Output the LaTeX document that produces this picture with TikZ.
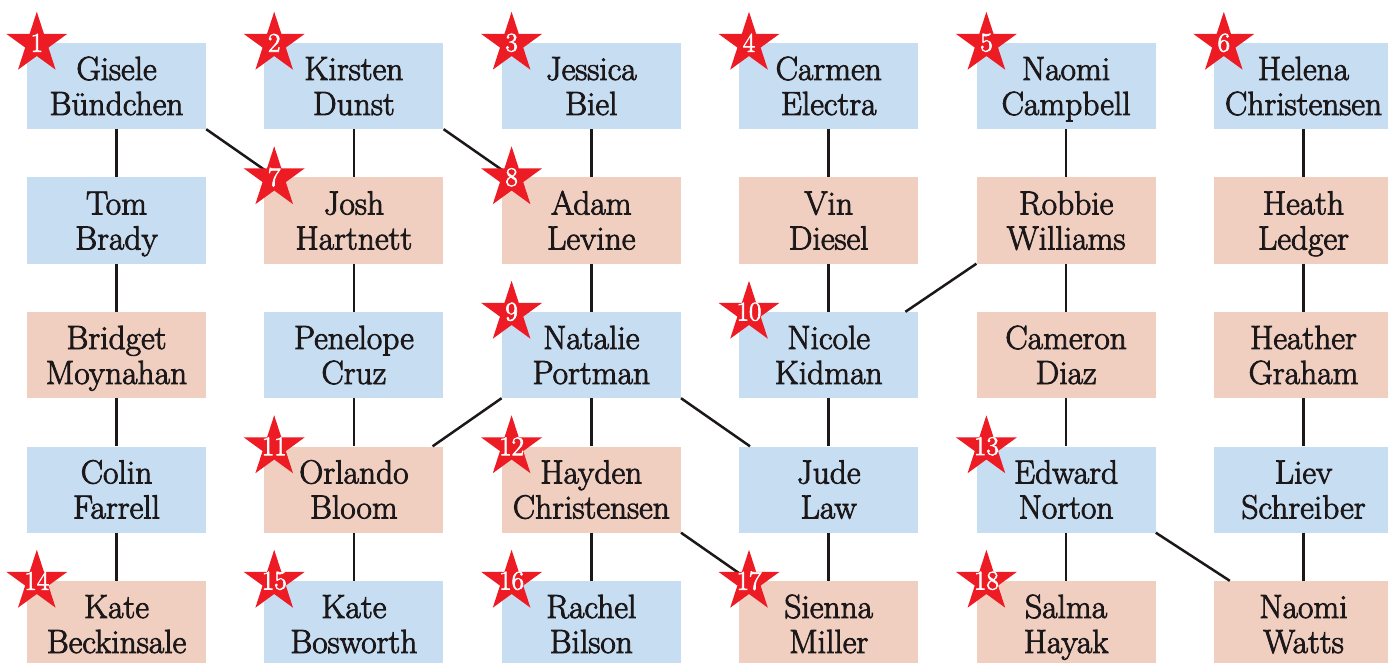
\documentclass[tikz,border=0pt]{standalone}
\usepackage{fontspec}
\setmainfont{Latin Modern Roman}[FakeBold=2.5]
\usetikzlibrary{shapes.geometric}
\definecolor{bluebox}{RGB}{198,221,242}
\definecolor{pinkbox}{RGB}{240,207,193}
\definecolor{starred}{RGB}{237,28,36}
\definecolor{ink}{RGB}{28,24,26}
\newcommand{\twolines}[2]{\rule{0pt}{31pt}#1\\#2\rule[-8pt]{0pt}{8pt}}
\begin{document}
\begin{tikzpicture}[x=1pt,y=-1pt,
  person/.style={minimum width=179pt,minimum height=86pt,inner sep=0pt,align=center,text=ink,font=\fontsize{33.5}{35}\selectfont},
  bl/.style={person,fill=bluebox},
  pk/.style={person,fill=pinkbox},
  link/.style={draw=ink,line width=2.5pt},
  starmark/.style={star,star points=5,star point ratio=2.618,fill=starred,minimum size=64pt,inner sep=0pt},
  starnum/.style={text=white,font=\fontsize{27}{27}\selectfont,inner sep=0pt}]
\useasboundingbox (0,0) rectangle (1388,663);
\clip (0,0) rectangle (1388,663);
% row 1
\node[bl] (gisele)  at (116.5,86) {\twolines{Gisele}{Bündchen}};
\node[bl] (kirsten) at (353.9,86) {\twolines{Kirsten}{Dunst}};
\node[bl] (jessica) at (591.3,86) {\twolines{Jessica}{Biel}};
\node[bl] (carmen)  at (828.7,86) {\twolines{Carmen}{Electra}};
\node[bl] (naomic)  at (1066.1,86) {\twolines{Naomi}{Campbell}};
\node[bl] (helena)  at (1303.5,86) {\twolines{Helena}{Christensen}};
% row 2
\node[bl] (tom)     at (116.5,220.5) {\twolines{Tom}{Brady}};
\node[pk] (josh)    at (353.9,220.5) {\twolines{Josh}{Hartnett}};
\node[pk] (adam)    at (591.3,220.5) {\twolines{Adam}{Levine}};
\node[pk] (vin)     at (828.7,220.5) {\twolines{Vin}{Diesel}};
\node[pk] (robbie)  at (1066.1,220.5) {\twolines{Robbie}{Williams}};
\node[pk] (heath)   at (1303.5,220.5) {\twolines{Heath}{Ledger}};
% row 3
\node[pk] (bridget) at (116.5,355) {\twolines{Bridget}{Moynahan}};
\node[bl] (penelope) at (353.9,355) {\twolines{Penelope}{Cruz}};
\node[bl] (natalie) at (591.3,355) {\twolines{Natalie}{Portman}};
\node[bl] (nicole)  at (828.7,355) {\twolines{Nicole}{Kidman}};
\node[pk] (cameron) at (1066.1,355) {\twolines{Cameron}{Diaz}};
\node[pk] (heather) at (1303.5,355) {\twolines{Heather}{Graham}};
% row 4
\node[bl] (colin)   at (116.5,489.5) {\twolines{Colin}{Farrell}};
\node[pk] (orlando) at (353.9,489.5) {\twolines{Orlando}{Bloom}};
\node[pk] (hayden)  at (591.3,489.5) {\twolines{Hayden}{Christensen}};
\node[bl] (jude)    at (828.7,489.5) {\twolines{Jude}{Law}};
\node[bl] (edward)  at (1066.1,489.5) {\twolines{Edward}{Norton}};
\node[bl] (liev)    at (1303.5,489.5) {\twolines{Liev}{Schreiber}};
% row 5
\node[pk] (kateb)   at (116.5,624) {\twolines{Kate}{Beckinsale}};
\node[bl] (katebo)  at (353.9,624) {\twolines{Kate}{Bosworth}};
\node[bl] (rachel)  at (591.3,624) {\twolines{Rachel}{Bilson}};
\node[pk] (sienna)  at (828.7,624) {\twolines{Sienna}{Miller}};
\node[pk] (salma)   at (1066.1,624) {\twolines{Salma}{Hayak}};
\node[pk] (naomiw)  at (1303.5,624) {\twolines{Naomi}{Watts}};
% vertical links
\draw[link] (gisele) -- (tom);
\draw[link] (tom) -- (bridget);
\draw[link] (bridget) -- (colin);
\draw[link] (colin) -- (kateb);
\draw[link] (kirsten) -- (josh);
\draw[link] (josh) -- (penelope);
\draw[link] (penelope) -- (orlando);
\draw[link] (orlando) -- (katebo);
\draw[link] (jessica) -- (adam);
\draw[link] (adam) -- (natalie);
\draw[link] (natalie) -- (hayden);
\draw[link] (hayden) -- (rachel);
\draw[link] (carmen) -- (vin);
\draw[link] (vin) -- (nicole);
\draw[link] (nicole) -- (jude);
\draw[link] (jude) -- (sienna);
\draw[link] (naomic) -- (robbie);
\draw[link] (robbie) -- (cameron);
\draw[link] (cameron) -- (edward);
\draw[link] (edward) -- (salma);
\draw[link] (helena) -- (heath);
\draw[link] (heath) -- (heather);
\draw[link] (heather) -- (liev);
\draw[link] (liev) -- (naomiw);
% diagonal links
\draw[link] (gisele.south east) -- ([xshift=11pt]josh.north west);
\draw[link] (kirsten.south east) -- ([xshift=11pt]adam.north west);
\draw[link] (natalie.south west) -- ([xshift=-11pt]orlando.north east);
\draw[link] (natalie.south east) -- ([xshift=11pt]jude.north west);
\draw[link] (hayden.south east) -- ([xshift=11pt]sienna.north west);
\draw[link] (robbie.south west) -- ([xshift=-13pt]nicole.north east);
\draw[link] (edward.south east) -- ([xshift=16pt]naomiw.north west);
% stars
\foreach \who/\num in {gisele/1,kirsten/2,jessica/3,carmen/4,naomic/5,helena/6,josh/7,adam/8,natalie/9,nicole/10,orlando/11,hayden/12,edward/13,kateb/14,katebo/15,rachel/16,sienna/17,salma/18}{
  \node[starmark] (s\num) at ([shift={(10,1)}]\who.north west) {};
  \node[starnum] (n\num) at ([yshift=1]s\num.center) {\num};
}
\end{tikzpicture}
\end{document}
